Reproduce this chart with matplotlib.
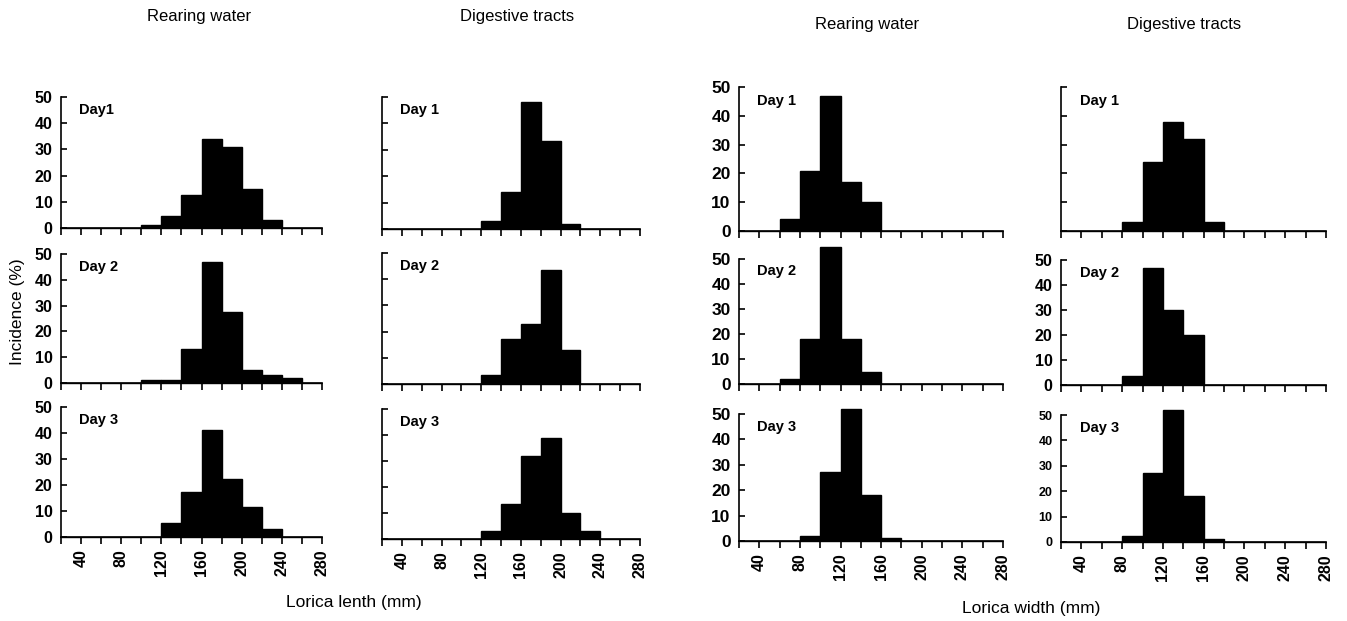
import numpy as np
import matplotlib
matplotlib.use('Agg')
import matplotlib.pyplot as plt

plt.rcParams['font.family'] = ['Liberation Sans', 'DejaVu Sans']

# Bin left edges (mm), 20 mm wide bins
bin_starts = [20, 40, 60, 80, 100, 120, 140, 160, 180, 200, 220, 240, 260]

# Lorica length - rearing water
rw_len_day1 = [0, 0, 0, 0, 1, 4.5, 12.5, 34, 31, 15, 3, 0, 0]
rw_len_day2 = [0, 0, 0, 0, 1, 1, 13, 47, 27.5, 5, 3, 2, 0]
rw_len_day3 = [0, 0, 0, 0, 0, 5.5, 17.5, 41, 22.5, 11.5, 3, 0, 0]
# Lorica length - digestive tracts
dt_len_day1 = [0, 0, 0, 0, 0, 3, 14, 48, 33.5, 2, 0, 0, 0]
dt_len_day2 = [0, 0, 0, 0, 0, 3.5, 17, 23, 43.5, 13, 0, 0, 0]
dt_len_day3 = [0, 0, 0, 0, 0, 3, 13.5, 32, 39, 10, 3, 0, 0]
# Lorica width - rearing water
rw_wid_day1 = [0, 0, 4, 21, 47, 17, 10, 0, 0, 0, 0, 0, 0]
rw_wid_day2 = [0, 0, 2, 18, 55, 18, 5, 0, 0, 0, 0, 0, 0]
rw_wid_day3 = [0, 0, 0, 2, 27, 52, 18, 1, 0, 0, 0, 0, 0]
# Lorica width - digestive tracts
dt_wid_day1 = [0, 0, 0, 3, 24, 38, 32, 3, 0, 0, 0, 0, 0]
dt_wid_day2 = [0, 0, 0, 3.5, 47, 30, 20, 0, 0, 0, 0, 0, 0]
dt_wid_day3 = [0, 0, 0, 2.5, 27, 52, 18, 1, 0, 0, 0, 0, 0]

day_labels = ['Day1', 'Day 1', 'Day 1', 'Day 1',
              'Day 2', 'Day 2', 'Day 2', 'Day 2',
              'Day 3', 'Day 3', 'Day 3', 'Day 3']
columns = [[rw_len_day1, rw_len_day2, rw_len_day3],
           [dt_len_day1, dt_len_day2, dt_len_day3],
           [rw_wid_day1, rw_wid_day2, rw_wid_day3],
           [dt_wid_day1, dt_wid_day2, dt_wid_day3]]
headers = ['Rearing water', 'Digestive tracts', 'Rearing water', 'Digestive tracts']

W, H = 1347, 621
fig = plt.figure(figsize=(W / 100, H / 100), dpi=100)

# panel boxes in pixels: (x_left, x_right) and (y_top, y_bottom)
col_x = [(61, 322), (382, 640), (739, 1003), (1061, 1326)]
col_rows = [[(97, 228), (254, 383), (407, 537)],
            [(97, 229), (253, 384), (409, 539)],
            [(87, 231), (259, 384), (414, 541)],
            [(87, 231), (260, 385), (415, 542)]]
# y tick label size per panel (None = no labels)
ylab_size = [[11.5, 11.5, 11.5],
             [None, None, None],
             [12.5, 12.5, 12.5],
             [None, 11.5, 9]]
xlab_size = [11.5, 11.5, 11.5, 11.5]

for c in range(4):
    x0, x1 = col_x[c]
    for r in range(3):
        yt, yb = col_rows[c][r]
        ax = fig.add_axes([x0 / W, 1 - yb / H, (x1 - x0) / W, (yb - yt) / H])
        ax.bar(bin_starts, columns[c][r], width=20, align='edge', color='black',
               edgecolor='black', linewidth=1, clip_on=False)
        ax.set_xlim(20, 280)
        ax.set_ylim(0, 50)
        for s in ['top', 'right']:
            ax.spines[s].set_visible(False)
        for s in ['left', 'bottom']:
            ax.spines[s].set_linewidth(1.2)
        ax.set_xticks(np.arange(20, 281, 20))
        ax.set_yticks([0, 10, 20, 30, 40, 50])
        ax.tick_params(axis='x', direction='out', length=5, width=1.2, pad=4)
        ax.tick_params(axis='y', direction='in', length=4, width=1.2, pad=6)
        if r == 2:
            ax.set_xticklabels([str(v) if v % 40 == 0 else '' for v in range(20, 281, 20)],
                               rotation=90, fontsize=xlab_size[c], fontweight='bold')
        else:
            ax.set_xticklabels([])
        if ylab_size[c][r] is None:
            ax.set_yticklabels([])
        else:
            ax.set_yticklabels(['0', '10', '20', '30', '40', '50'],
                               fontsize=ylab_size[c][r], fontweight='bold')
        ax.text(0.07, 0.9, day_labels[r * 4 + c], transform=ax.transAxes,
                fontsize=10.5, fontweight='bold', va='center', ha='left')

header_pos = [(199, 17), (517, 17), (867, 24), (1184, 24)]
for (hx, hy), txt in zip(header_pos, headers):
    fig.text(hx / W, 1 - hy / H, txt, fontsize=12, ha='center', va='center')

fig.text(354 / W, 1 - 603 / H, 'Lorica lenth (mm)', fontsize=12.5, ha='center', va='center')
fig.text(1031 / W, 1 - 608 / H, 'Lorica width (mm)', fontsize=12.5, ha='center', va='center')
fig.text(18 / W, 1 - 312 / H, 'Incidence (%)', fontsize=12.5, rotation=90,
         ha='center', va='center')

fig.savefig('out.png', dpi=100)
